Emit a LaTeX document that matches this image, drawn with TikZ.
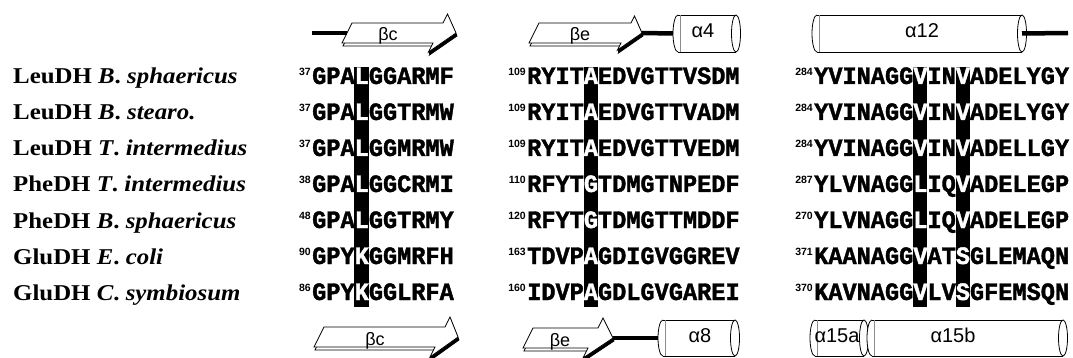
\documentclass[tikz,border=0pt]{standalone}
\usepackage{fontspec}
\setmainfont{Liberation Serif}[FakeStretch=1.1]
\newfontfamily\seqfont{Liberation Mono}[FakeStretch=0.944, BoldFeatures={FakeBold=1.5}]
\newfontfamily\ssfont{Liberation Sans}

\tikzset{
  lbl/.style={anchor=base west, inner sep=0pt, font=\fontsize{22.6}{23}\selectfont\bfseries},
  seq/.style={anchor=base west, inner sep=0pt, font=\fontsize{25}{25}\seqfont\bfseries},
  num/.style={anchor=north east, inner sep=0pt, font=\fontsize{10.5}{10.5}\ssfont\bfseries},
  hl/.style={fill=black, draw=none},
  sslbl/.style={inner sep=0pt, anchor=base, font=\fontsize{18}{18}\ssfont},
  helbl/.style={inner sep=0pt, anchor=base, font=\fontsize{20}{20}\ssfont},
  loopline/.style={line width=4.5pt},
  outline/.style={line width=0.8pt, line join=miter},
}

\newcommand{\W}[1]{\textcolor{white}{#1}}

% one alignment row: index, organism, then number/sequence for each block
\newcommand{\seqrow}[8]{%
  \pgfmathsetmacro{\yb}{84+36*(#1-1)}
  \node[lbl] (lab#1) at (13,\yb) {#2};
  \node[seq] (sa#1) at (312,\yb) {#4};
  \node[num] (na#1) at (311,\yb-16) {#3};
  \node[seq] (sb#1) at (527,\yb) {#6};
  \node[num] (nb#1) at (526,\yb-16) {#5};
  \node[seq] (sc#1) at (814,\yb) {#8};
  \node[num] (nc#1) at (813,\yb-16) {#7};
}

% flat beta strand drawn in perspective:
% name, centre y, left x, head base x, tip x, barb half-width, label x, label
\newcommand{\strand}[8]{%
  \begin{scope}[shift={(1,#2+3)}, xslant=0.5]
    \draw[outline, fill=white] (#3,10) -- (#4,10) -- (#4,#6) coordinate (#1-bbarb)
      -- (#5,0) coordinate (#1-btip) -- (#4,-#6) -- (#4,-10) -- (#3,-10) -- cycle;
  \end{scope}
  \begin{scope}[shift={(0,#2)}, xslant=0.5]
    \path (#4,#6) coordinate (#1-barb) (#5,0) coordinate (#1-tip)
          (#3,0) coordinate (#1-w);
  \end{scope}
  \fill (#1-tip) -- (#1-barb) -- (#1-bbarb) -- (#1-btip) -- cycle;
  \begin{scope}[shift={(0,#2)}, xslant=0.5]
    \draw[outline, fill=white] (#3,10) -- (#4,10) -- (#4,#6) -- (#5,0) -- (#4,-#6)
      -- (#4,-10) -- (#3,-10) -- cycle;
  \end{scope}
  \node[sslbl] (#1-lab) at (#7,#2+8) {#8};
}

% helix cylinder: name, left x, right x, top y, bottom y, label x, label
\newcommand{\helix}[7]{%
  \pgfmathsetmacro{\hry}{(#5-#4)/2}
  \pgfmathsetmacro{\hcy}{(#4+#5)/2}
  \fill[white] (#2,\hcy) ellipse [x radius=5pt, y radius=\hry pt];
  \fill[white] (#2,#4) rectangle (#3,#5);
  \draw[outline] (#2,#4) -- (#3,#4) (#2,#5) -- (#3,#5);
  \draw[outline] (#2,#4) arc [start angle=90, end angle=270, x radius=5pt, y radius=\hry pt];
  \draw[black!45, line width=0.4pt] (#2+1.8,#4) -- (#2+1.8,#5);
  \draw[outline, fill=white] (#3,\hcy) ellipse [x radius=4.5pt, y radius=\hry pt];
  \coordinate (#1-w) at (#2-5,\hcy);
  \coordinate (#1-e) at (#3,\hcy);
  \node[helbl] (#1-lab) at (#6,\hcy+4) {#7};
}

\begin{document}
\begin{tikzpicture}[x=1pt, y=-1pt]
\useasboundingbox (0,0) rectangle (1073,358);
\fill[white] (0,0) rectangle (1073,358);

% conserved columns
\pgfmathsetmacro{\cw}{14.16}
\fill[hl] (312+3*\cw,67) rectangle (312+4*\cw,307);
\fill[hl] (527+4*\cw,67) rectangle (527+5*\cw,307);
\fill[hl] (814+7*\cw,67) rectangle (814+8*\cw,307);
\fill[hl] (814+10*\cw,67) rectangle (814+11*\cw,307);

\seqrow{1}{LeuDH \textit{B}. \textit{sphaericus}}{37}{GPA\W{L}GGARMF}{109}{RYIT\W{A}EDVGTTVSDM}{284}{YVINAGG\W{V}IN\W{V}ADELYGY}
\seqrow{2}{LeuDH \textit{B}. \textit{stearo.}}{37}{GPA\W{L}GGTRMW}{109}{RYIT\W{A}EDVGTTVADM}{284}{YVINAGG\W{V}IN\W{V}ADELYGY}
\seqrow{3}{LeuDH \textit{T}. \textit{intermedius}}{37}{GPA\W{L}GGMRMW}{109}{RYIT\W{A}EDVGTTVEDM}{284}{YVINAGG\W{V}IN\W{V}ADELLGY}
\seqrow{4}{PheDH \textit{T}. \textit{intermedius}}{38}{GPA\W{L}GGCRMI}{110}{RFYT\W{G}TDMGTNPEDF}{287}{YLVNAGG\W{L}IQ\W{V}ADELEGP}
\seqrow{5}{PheDH \textit{B}. \textit{sphaericus}}{48}{GPA\W{L}GGTRMY}{120}{RFYT\W{G}TDMGTTMDDF}{270}{YLVNAGG\W{L}IQ\W{V}ADELEGP}
\seqrow{6}{GluDH \textit{E}. \textit{coli}}{90}{GPY\W{K}GGMRFH}{163}{TDVP\W{A}GDIGVGGREV}{371}{KAANAGG\W{V}AT\W{S}GLEMAQN}
\seqrow{7}{GluDH \textit{C}. \textit{symbiosum}}{86}{GPY\W{K}GGLRFA}{160}{IDVP\W{A}GDLGVGAREI}{370}{KAVNAGG\W{V}LV\W{S}GFEMSQN}

% secondary structure above the alignment
\coordinate (tstart) at (312,33);
\coordinate (tend) at (1068,33);
\strand{tbc}{33}{347}{438}{456}{19}{388}{βc}
\strand{tbe}{33}{534}{626}{642}{17}{580}{βe}
\helix{ta4}{678}{736}{15}{52}{703}{α4}
\helix{ta12}{817}{1022}{15}{52}{922}{α12}

% secondary structure below the alignment
\strand{bbc}{337}{319}{440}{458}{20}{375}{βc}
\strand{bbe}{338}{528}{593}{613}{20}{560}{βe}
\helix{ba8}{663}{735}{320}{356}{700}{α8}
\helix{ba15a}{815}{864}{320}{356}{837}{α15a}
\helix{ba15b}{872}{1063}{320}{356}{953}{α15b}

% loops joining the elements
\draw[loopline] (tstart) -- (tbc-w);
\draw[loopline] (tbe-tip) -- (ta4-w);
\draw[loopline] (ta12-e) -- (tend);
\draw[loopline] (bbe-tip) -- (ba8-w);
\end{tikzpicture}
\end{document}
